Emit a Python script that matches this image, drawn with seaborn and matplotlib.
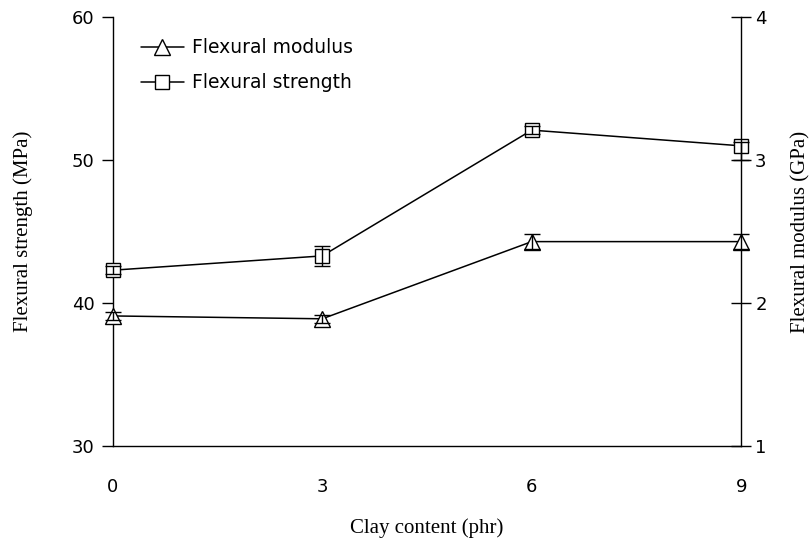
import matplotlib
matplotlib.use("Agg")
import matplotlib.pyplot as plt
import seaborn as sns
import pandas as pd
import numpy as np

clay = [0, 3, 6, 9]
strength = [42.3, 43.3, 52.1, 51.0]
strength_err_low = [0.3, 0.7, 0.3, 1.0]
strength_err_high = [0.3, 0.7, 0.3, 0.3]
modulus = [1.91, 1.89, 2.43, 2.43]
modulus_err = [0.03, 0.03, 0.05, 0.05]

sns.set_theme(style="white")
plt.rcParams['font.family'] = ['DejaVu Sans']
plt.rcParams['text.color'] = 'black'
plt.rcParams['axes.labelcolor'] = 'black'

fig = plt.figure(figsize=(8.11, 5.38), dpi=100)
ax = fig.add_axes([0.139, 0.171, 0.775, 0.797])
ax2 = ax.twinx()

df_s = pd.DataFrame({"clay": clay, "val": strength})
df_m = pd.DataFrame({"clay": clay, "val": modulus})

sns.lineplot(data=df_s, x="clay", y="val", ax=ax, color="black", lw=1.1,
             marker="s", markersize=10, markerfacecolor="white",
             markeredgecolor="black", markeredgewidth=1.0, zorder=3,
             label="Flexural strength", legend=False)
ax.errorbar(clay, strength, yerr=[strength_err_low, strength_err_high], fmt="none",
            ecolor="black", elinewidth=1.0, capsize=6, capthick=1.0, zorder=4)

sns.lineplot(data=df_m, x="clay", y="val", ax=ax2, color="black", lw=1.1,
             marker="^", markersize=11, markerfacecolor="white",
             markeredgecolor="black", markeredgewidth=1.0, zorder=3,
             label="Flexural modulus", legend=False)
ax2.errorbar(clay, modulus, yerr=modulus_err, fmt="none",
             ecolor="black", elinewidth=1.0, capsize=6, capthick=1.0, zorder=4)

for a in (ax, ax2):
    for art in a.lines + a.collections:
        art.set_clip_on(False)

ax.set_xlim(0, 9)
ax.set_ylim(30, 60)
ax2.set_ylim(1, 4)
ax.set_xticks([0, 3, 6, 9])
ax.set_yticks([30, 40, 50, 60])
ax2.set_yticks([1, 2, 3, 4])

for a in (ax, ax2):
    a.spines["top"].set_visible(False)
    for s in ["left", "right", "bottom"]:
        a.spines[s].set_color("black")
        a.spines[s].set_linewidth(1.0)
    a.grid(False)
ax.spines["right"].set_visible(False)
ax2.spines["left"].set_visible(False)
ax2.spines["bottom"].set_visible(False)

ax.tick_params(axis="x", direction="out", length=7, width=1, pad=16, labelsize=13,
               colors="black")
ax.tick_params(axis="y", direction="out", length=8, width=1, pad=5, labelsize=13,
               colors="black", left=True)
ax2.tick_params(axis="y", direction="inout", length=14, width=1, pad=3, labelsize=13,
                colors="black", right=True)

serif = ['Liberation Serif', 'DejaVu Serif']
ax.set_xlabel("Clay content (phr)", family=serif, fontsize=15, labelpad=16, color="black")
ax.set_ylabel("Flexural strength (MPa)", family=serif, fontsize=15, labelpad=28, color="black")
ax2.set_ylabel("Flexural modulus (GPa)", family=serif, fontsize=15, labelpad=18, color="black")

h1, l1 = ax.get_legend_handles_labels()
h2, l2 = ax2.get_legend_handles_labels()
leg = ax.legend(h2 + h1, l2 + l1, loc="upper left", bbox_to_anchor=(0.018, 0.99),
                frameon=False, fontsize=13.5, handlelength=2.3, handletextpad=0.4,
                labelspacing=0.85)
for t in leg.get_texts():
    t.set_color("black")

fig.savefig("out.png", dpi=100)
